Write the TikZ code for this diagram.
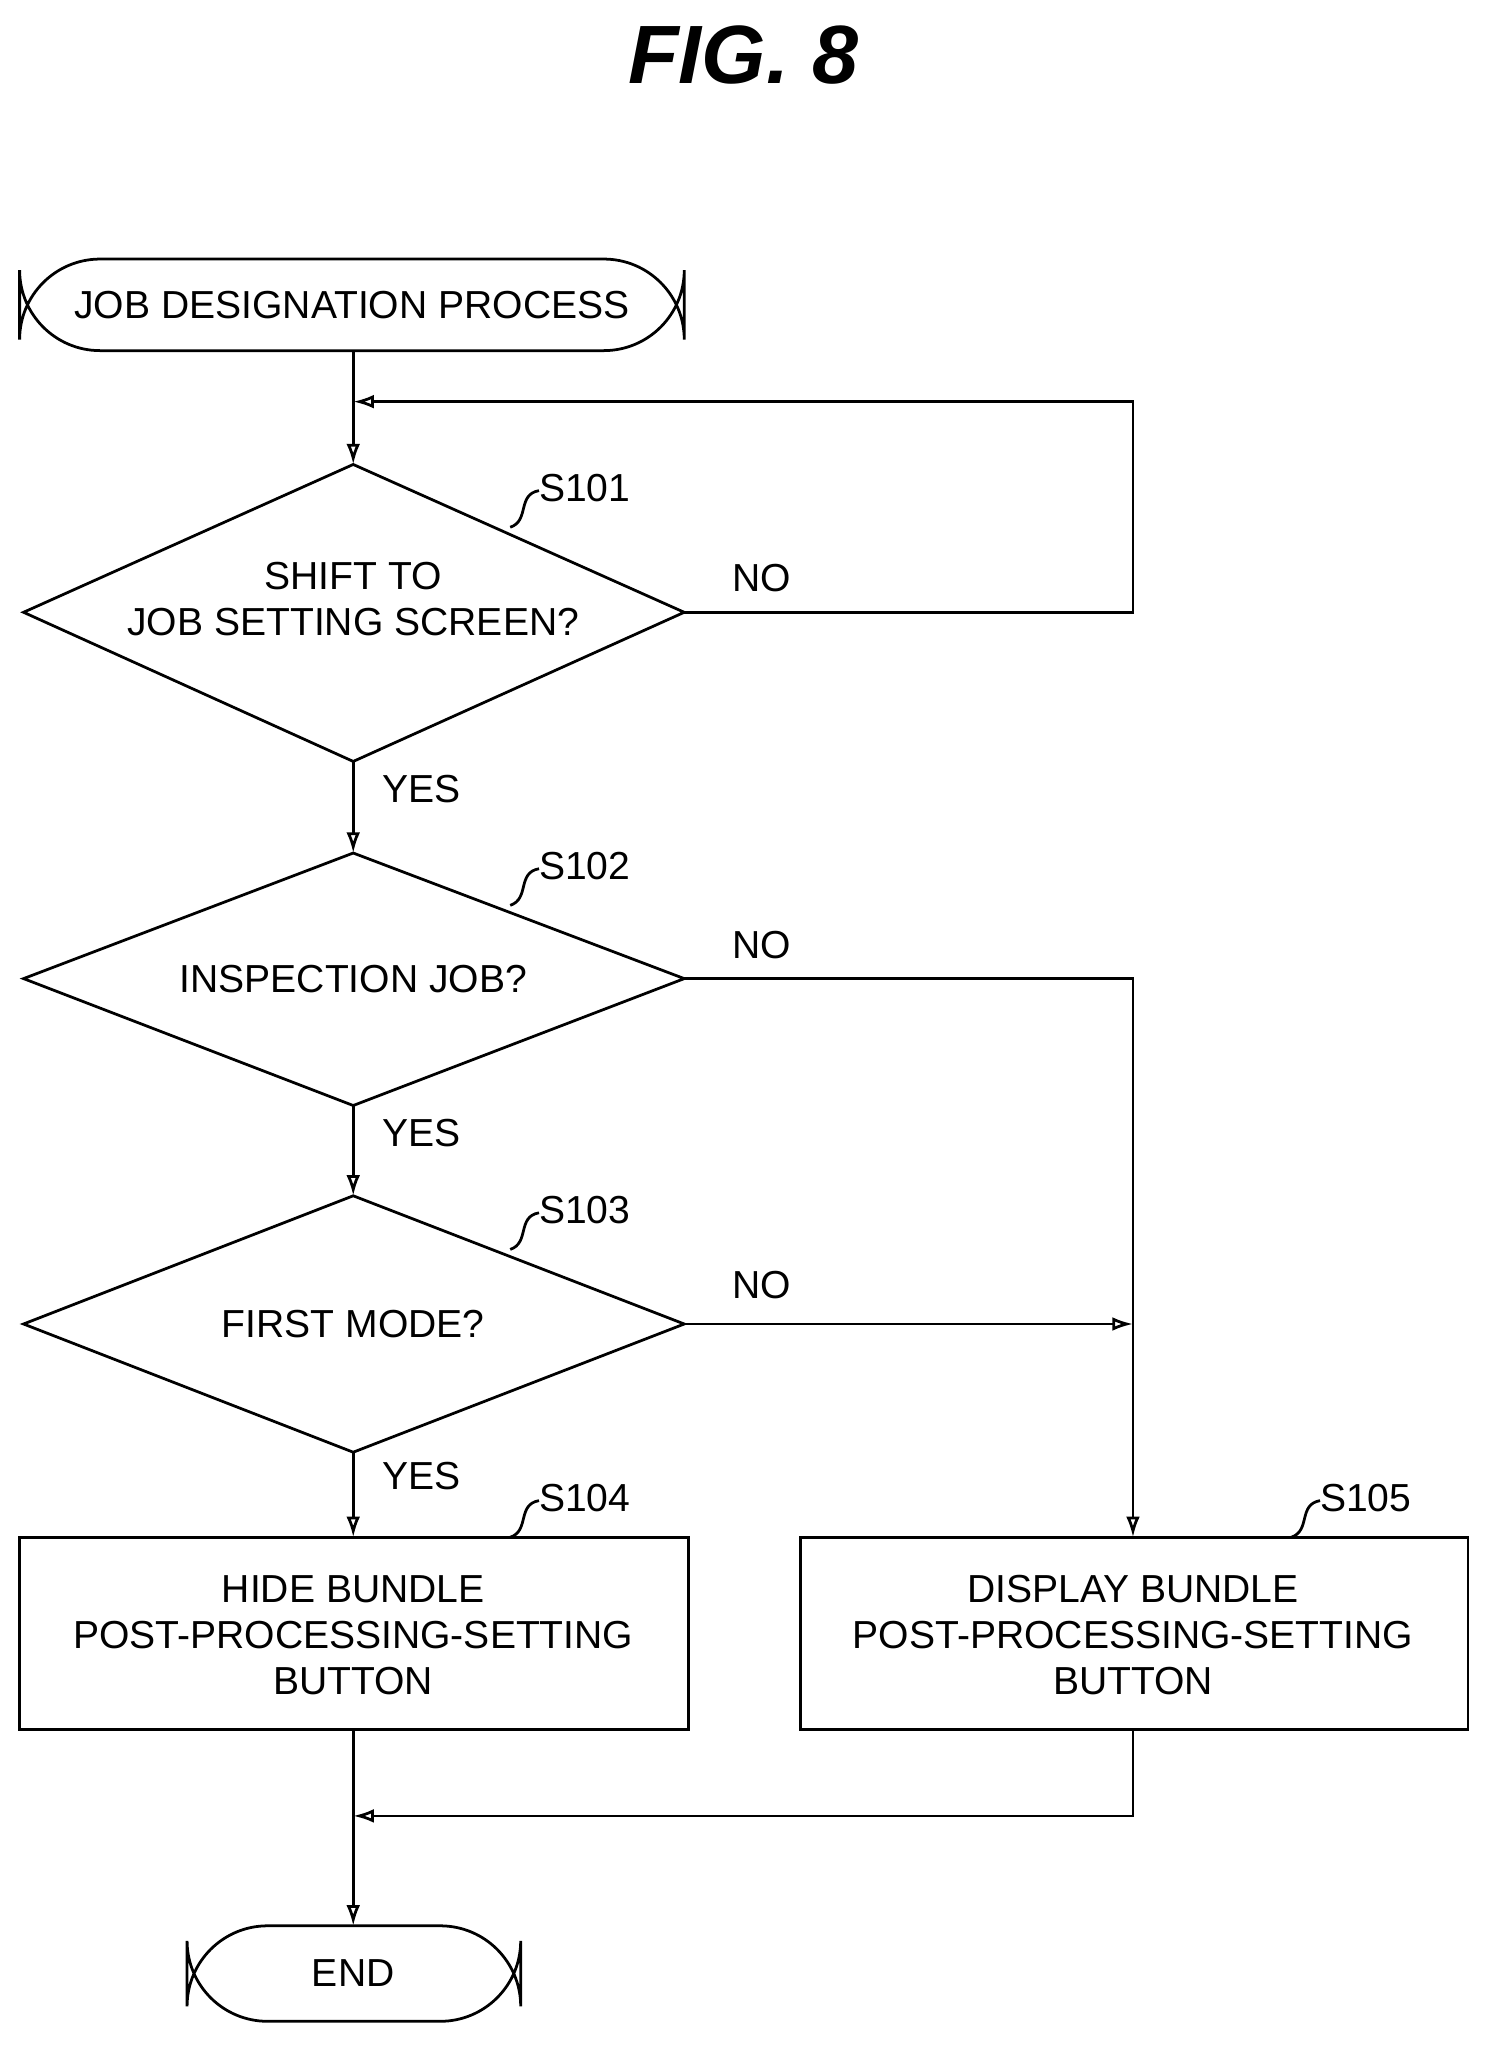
\documentclass[tikz,border=0pt]{standalone}
\usepackage{fontspec}
\setmainfont{Liberation Sans}
\usetikzlibrary{shapes.geometric,arrows.meta}
\begin{document}
\begin{tikzpicture}[x=0.02cm,y=-0.02cm,
  every node/.style={font=\fontsize{17}{20}\selectfont},
  ln/.style={line width=1.2pt},
  ar/.style={ln,-{Latex[length=9pt,width=6pt,open]}},
  dia/.style={draw,ln,diamond,aspect=2.22,inner sep=0pt,minimum width=505\pgflinewidth},
  lbl/.style={inner sep=1pt}]
\useasboundingbox (0,0) rectangle (1140,1570);
\node[font=\fontsize{36}{40}\selectfont\bfseries\itshape\rmfamily] (title) at (568,42) {FIG. 8};
\draw[ln,rounded corners=35] (15,198) rectangle (523,268);
\node (start) at (269,233) {JOB DESIGNATION PROCESS};
\coordinate (sb) at (270,268);
% diamonds drawn as paths
\foreach \n/\c in {d1/468,d2/748,d3/1012}{}
\draw[ln] (270,355) -- (523,468) -- (270,582) -- (18,468) -- cycle;
\node[align=center] (t1) at (270,458) {SHIFT TO\\JOB SETTING SCREEN?};
\draw[ln] (270,652) -- (523,748) -- (270,845) -- (18,748) -- cycle;
\node (t2) at (270,748) {INSPECTION JOB?};
\draw[ln] (270,914) -- (523,1012) -- (270,1110) -- (18,1012) -- cycle;
\node (t3) at (270,1012) {FIRST MODE?};
\draw[ln] (15,1175) rectangle (526,1322);
\node[align=center] (b4) at (270,1250) {HIDE BUNDLE\\POST-PROCESSING-SETTING\\BUTTON};
\draw[ln] (612,1175) rectangle (1122,1322);
\node[align=center] (b5) at (866,1250) {DISPLAY BUNDLE\\POST-PROCESSING-SETTING\\BUTTON};
\draw[ln,rounded corners=35] (143,1472) rectangle (398,1545);
\node (end) at (270,1508) {END};
% connectors
\draw[ar] (270,268) -- (270,355);
\draw[ln] (523,468) -- (866,468) -- (866,307) -- (285,307);
\draw[ar] (320,307) -- (270,307);
\draw[ar] (270,582) -- (270,652);
\draw[ar] (523,748) -- (866,748) -- (866,1175);
\draw[ar] (270,845) -- (270,914);
\draw[ar] (523,1012) -- (866,1012);
\draw[ar] (270,1110) -- (270,1175);
\draw[ln] (866,1322) -- (866,1388) -- (290,1388);
\draw[ar] (320,1388) -- (270,1388);
\draw[ar] (270,1322) -- (270,1472);
% labels
\node (no1) at (582,442) {NO};
\node (yes1) at (322,603) {YES};
\node (no2) at (582,722) {NO};
\node (yes2) at (322,866) {YES};
\node (no3) at (582,982) {NO};
\node (yes3) at (322,1128) {YES};
\foreach \x/\y/\s in {390/403/S101,390/692/S102,390/955/S103,390/1175/S104,987/1175/S105}{
  \draw[ln] (\x,\y) .. controls (\x+15,\y-5) and (\x+5,\y-25) .. (\x+22,\y-28);
  \node[anchor=west,lbl] at (\x+20,\y-30) {\s};
}
\end{tikzpicture}
\end{document}
